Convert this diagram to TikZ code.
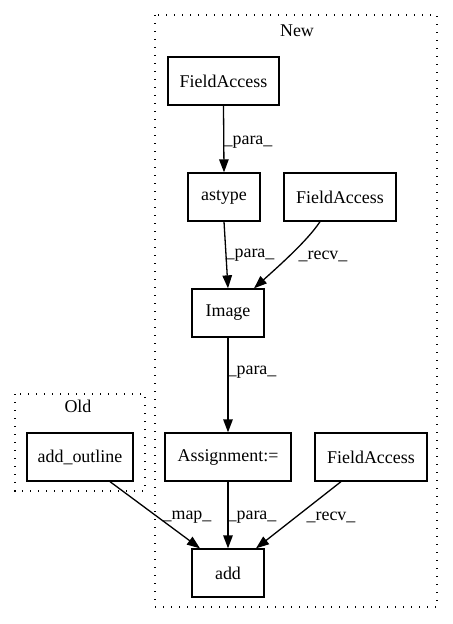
\documentclass[tikz,border=0pt]{standalone}
\usepackage{fontspec}
\setmainfont{Liberation Serif}
\usetikzlibrary{arrows.meta}
\begin{document}
\begin{tikzpicture}[x=1bp,y=-1bp,
  box/.style={draw, line width=1.3bp, minimum height=48bp, inner sep=0pt, font=\fontsize{18}{20}\selectfont},
  lbl/.style={font=\fontsize{18}{20}\selectfont, inner sep=0pt},
  edge/.style={line width=1.3bp, -{Triangle[length=13bp,width=9.5bp]}},
  cluster/.style={line width=1.3bp, dash pattern=on 1.3bp off 6.7bp}]
\useasboundingbox (0,0) rectangle (453,624);
% clusters
\draw[cluster] (155,15) rectangle (437,607);
\node[lbl] (newlbl) at (297,31) {New};
\draw[cluster] (15,394) rectangle (145,491);
\node[lbl] (oldlbl) at (78,406) {Old};
% nodes
\node[box, minimum width=111bp] (fa1) at (223.5,81) {FieldAccess};
\node[box, minimum width=72bp] (astype) at (224,197) {astype};
\node[box, minimum width=112bp] (fa2) at (340,197) {FieldAccess};
\node[box, minimum width=72bp] (img) at (228,313) {Image};
\node[box, minimum width=126bp] (asg) at (228,457) {Assignment:=};
\node[box, minimum width=112bp] (fa3) at (371,457) {FieldAccess};
\node[box, minimum width=106bp] (ao) at (80,457) {add\_outline};
\node[box, minimum width=72bp] (add) at (228,573) {add};
% edges
\draw[edge] (fa1.south) -- (astype.north);
\draw[edge] (astype.south) -- ([xshift=0bp]img.north);
\draw[edge] ([xshift=-20bp]fa2.south) .. controls (308,240) and (280,265) .. ([xshift=26bp]img.north);
\draw[edge] (img.south) -- (asg.north);
\draw[edge] ([xshift=30bp]ao.south) -- ([xshift=-28bp]add.north);
\draw[edge] (asg.south) -- (add.north);
\draw[edge] ([xshift=-30bp]fa3.south) -- ([xshift=28bp]add.north);
% edge labels
\node[lbl] (l1) at (248,142) {\_para\_};
\node[lbl] (l2) at (250,255) {\_para\_};
\node[lbl] (l3) at (323,256) {\_recv\_};
\node[lbl] (l4) at (252,372) {\_para\_};
\node[lbl] (l5) at (187,517) {\_map\_};
\node[lbl] (l6) at (252,517) {\_para\_};
\node[lbl] (l7) at (331,517) {\_recv\_};
\end{tikzpicture}
\end{document}
